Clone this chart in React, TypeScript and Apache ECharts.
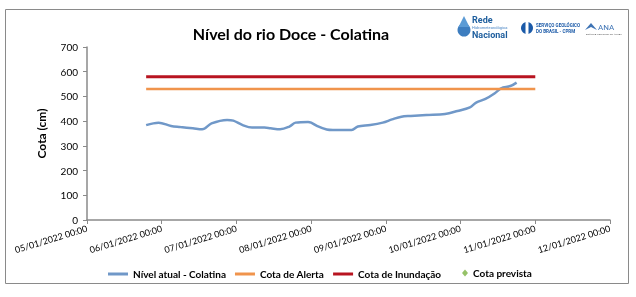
import React, { useEffect, useRef } from "react";
import * as echarts from "echarts";

const title = "Nível do rio Doce - Colatina";
const yAxisName = "Cota (cm)";
const startDay = "2022-01-05T00:00";
const axisDays = 7;

const levelTimes = [
  "2022-01-05T19:00", "2022-01-05T23:00", "2022-01-06T03:00", "2022-01-06T06:00",
  "2022-01-06T10:00", "2022-01-06T13:00", "2022-01-06T16:00", "2022-01-06T21:00",
  "2022-01-06T23:00", "2022-01-07T02:00", "2022-01-07T05:00", "2022-01-07T09:00",
  "2022-01-07T11:00", "2022-01-07T14:00", "2022-01-07T17:00", "2022-01-07T19:00",
  "2022-01-07T23:00", "2022-01-08T00:00", "2022-01-08T02:00", "2022-01-08T05:00",
  "2022-01-08T07:00", "2022-01-08T13:00", "2022-01-08T15:00", "2022-01-08T19:00",
  "2022-01-08T23:00", "2022-01-09T02:00", "2022-01-09T05:00", "2022-01-09T08:00",
  "2022-01-09T13:00", "2022-01-09T19:00", "2022-01-09T23:00", "2022-01-10T03:00",
  "2022-01-10T05:00", "2022-01-10T08:00", "2022-01-10T11:00", "2022-01-10T13:00",
  "2022-01-10T16:00", "2022-01-10T18:00",
];
const levelValues = [
  384, 394, 380, 376, 371, 367, 391, 405, 402, 384, 374, 374, 371, 367, 378, 394,
  397, 394, 380, 366, 364, 364, 378, 384, 394, 407, 418, 421, 425, 429, 441, 456,
  475, 490, 513, 533, 542, 556,
];
const thresholdTimes = ["2022-01-05T19:00", "2022-01-11T00:00"];
const alertValue = 530;
const floodValue = 580;
const forecastTimes: string[] = [];
const forecastValues: number[] = [];

const seriesNames = ["Nível atual - Colatina", "Cota de Alerta", "Cota de Inundação", "Cota prevista"];
const colors = ["#7098c8", "#f0944c", "#b81420", "#7cb342"];

const toMs = (s: string) => Date.parse(s + ":00Z");
const startMs = toMs(startDay);
const toHours = (s: string) => (toMs(s) - startMs) / 3600000;
const pad = (n: number) => (n < 10 ? "0" + n : "" + n);
const fmtHours = (h: number) => {
  const d = new Date(startMs + h * 3600000);
  return `${pad(d.getUTCDate())}/${pad(d.getUTCMonth() + 1)}/${d.getUTCFullYear()} ${pad(d.getUTCHours())}:${pad(d.getUTCMinutes())}`;
};

const FONT = "Lato";
const legendText = { fontFamily: FONT, fontSize: 10, fontWeight: "bold" as const, color: "#000" };

export default function App() {
  const ref = useRef<HTMLDivElement>(null);
  useEffect(() => {
    if (!ref.current) return;
    const chart = echarts.init(ref.current, null, { renderer: "svg" });
    const levelData = levelTimes.map((t, i) => [toHours(t), levelValues[i]]);
    const alertData = thresholdTimes.map((t) => [toHours(t), alertValue]);
    const floodData = thresholdTimes.map((t) => [toHours(t), floodValue]);
    const forecastData = forecastTimes.map((t, i) => [toHours(t), forecastValues[i]]);
    chart.setOption({
      animation: false,
      textStyle: { fontFamily: FONT },
      title: {
        text: title,
        left: 286,
        top: 20,
        textAlign: "center",
        textStyle: { fontFamily: FONT, fontSize: 16, fontWeight: "bold", color: "#000" },
      },
      graphic: [
        { type: "rect", shape: { x: 5.5, y: 9.5, width: 623, height: 274 }, style: { fill: "none", stroke: "#8a8a8a", lineWidth: 1 }, silent: true },
        // Rede Hidrometeorológica Nacional logo
        { type: "circle", shape: { cx: 464, cy: 30, r: 6.5 }, style: { fill: "#3d7dbf" } },
        { type: "polygon", shape: { points: [[464, 16], [458.5, 27], [469.5, 27]] }, style: { fill: "#5b9bd5" } },
        { type: "text", x: 472, y: 15, style: { text: "Rede", fontSize: 9, fontFamily: "Roboto", fontWeight: "bold", fill: "#1f5f9e" } },
        { type: "text", x: 472, y: 25, style: { text: "Hidrometeorológica", fontSize: 4, fontFamily: "Roboto", fill: "#4a86c5" } },
        { type: "text", x: 472, y: 30, style: { text: "Nacional", fontSize: 9, fontFamily: "Roboto", fontWeight: "bold", fill: "#1f5f9e" } },
        // CPRM logo
        { type: "ellipse", shape: { cx: 527, cy: 28, rx: 6, ry: 6 }, style: { fill: "#1b5aa8" } },
        { type: "rect", shape: { x: 525.5, y: 21, width: 3, height: 14 }, style: { fill: "#fff" } },
        { type: "text", x: 536, y: 23, style: { text: "SERVIÇO GEOLÓGICO", fontSize: 4.5, fontFamily: "Roboto", fontWeight: "bold", fill: "#1b5aa8" } },
        { type: "text", x: 536, y: 29, style: { text: "DO BRASIL - CPRM", fontSize: 4.5, fontFamily: "Roboto", fontWeight: "bold", fill: "#1b5aa8" } },
        // ANA logo
        { type: "polygon", shape: { points: [[585, 30], [591, 23], [597, 30], [591, 27]] }, style: { fill: "#3f74b5" } },
        { type: "text", x: 598, y: 23, style: { text: "ANA", fontSize: 8, fontFamily: "Roboto", fill: "#3f74b5" } },
        { type: "text", x: 586, y: 33, style: { text: "AGÊNCIA NACIONAL DE ÁGUAS", fontSize: 2.5, fontFamily: "Roboto", fill: "#666" } },
      ],
      grid: { left: 87, right: 26, top: 47, bottom: 77, containLabel: false },
      legend: [
        {
          data: seriesNames.slice(0, 3),
          left: 103,
          top: 264,
          itemGap: 9,
          itemWidth: 20,
          itemHeight: 3,
          icon: "rect",
          textStyle: legendText,
        },
        {
          data: [seriesNames[3]],
          left: 457,
          top: 263,
          itemWidth: 6,
          itemHeight: 7,
          icon: "diamond",
          textStyle: legendText,
        },
      ],
      xAxis: {
        type: "value",
        min: 0,
        max: axisDays * 24,
        interval: 24,
        axisLine: { show: true, lineStyle: { color: "#8a8a8a", width: 1.5 } },
        axisTick: { show: true, length: 4, lineStyle: { color: "#8a8a8a" } },
        splitLine: { show: false },
        axisLabel: {
          rotate: 17,
          margin: 8,
          fontSize: 9,
          fontFamily: FONT,
          color: "#000",
          formatter: (v: number) => fmtHours(v),
        },
      },
      yAxis: {
        type: "value",
        min: 0,
        max: 700,
        interval: 100,
        name: yAxisName,
        nameLocation: "middle",
        nameGap: 40,
        nameRotate: 90,
        nameTextStyle: { fontFamily: FONT, fontSize: 12, fontWeight: "bold", color: "#000" },
        axisLine: { show: true, lineStyle: { color: "#8a8a8a", width: 1.5 } },
        axisTick: { show: true, length: 4, lineStyle: { color: "#8a8a8a" } },
        splitLine: { show: false },
        axisLabel: { fontSize: 10, fontFamily: FONT, color: "#000", margin: 9 },
      },
      series: [
        { name: seriesNames[0], type: "line", data: levelData, smooth: 0.35, symbol: "none", color: colors[0], lineStyle: { width: 2.5, color: colors[0] } },
        { name: seriesNames[1], type: "line", data: alertData, symbol: "none", color: colors[1], lineStyle: { width: 2.5, color: colors[1] } },
        { name: seriesNames[2], type: "line", data: floodData, symbol: "none", color: colors[2], lineStyle: { width: 3, color: colors[2] } },
        { name: seriesNames[3], type: "scatter", data: forecastData, symbol: "diamond", symbolSize: 6, color: colors[3] },
      ],
    });
    return () => chart.dispose();
  }, []);
  return <div ref={ref} style={{ position: "fixed", left: 0, top: 0, width: 636, height: 297 }} />;
}
